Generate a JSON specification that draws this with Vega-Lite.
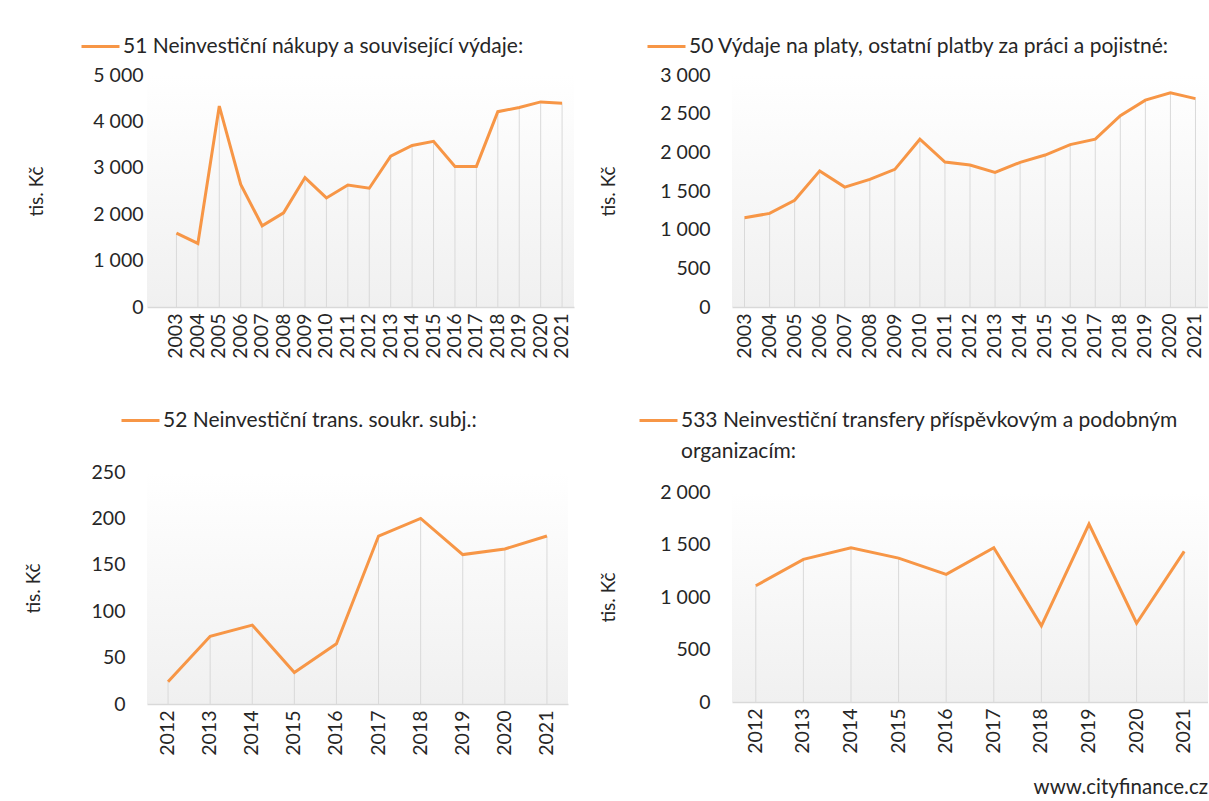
{
  "$schema": "https://vega.github.io/schema/vega-lite/v6.json",
  "background": "white",
  "padding": {"left": 24, "top": 26, "right": 0, "bottom": 0},
  "title": {"text": "www.cityfinance.cz", "orient": "bottom", "anchor": "end", "fontSize": 20.5, "fontWeight": "normal", "font": "Lato", "color": "#262626", "offset": 23},
  "config": {
    "font": "Lato",
    "view": {"stroke": null, "fill": {"gradient": "linear", "x1": 0, "y1": 0, "x2": 0, "y2": 1, "stops": [{"offset": 0, "color": "#ffffff"}, {"offset": 1, "color": "#f0f0f0"}]}},
    "axis": {"labelFont": "Lato", "labelFontSize": 19.5, "labelColor": "#262626", "titleFont": "Lato", "titleFontSize": 19, "titleFontWeight": "normal", "titleColor": "#262626", "grid": false, "ticks": false},
    "axisX": {"labelAngle": -90, "domainColor": "#d9d9d9", "domainWidth": 1.5, "labelPadding": 6, "title": null},
    "axisY": {"domain": false, "labelPadding": 22},
    "legend": {"orient": "none", "title": null, "symbolType": "stroke", "symbolSize": 1444, "symbolStrokeWidth": 3, "labelFont": "Lato", "labelFontSize": 21, "labelColor": "#262626", "labelOffset": 2, "labelLimit": 900},
    "style": {"guide-label": {"lineHeight": 31}}
  },
  "resolve": {"scale": {"color": "independent"}},
  "columns": 2,
  "align": "none",
  "spacing": {"row": 41, "column": 25},
  "concat": [
    {
      "width": 427, "height": 232,
      "data": {"values": [
        {"year": "2003", "value": 1590, "series": "51 Neinvestiční nákupy a související výdaje:"},
        {"year": "2004", "value": 1370, "series": "51 Neinvestiční nákupy a související výdaje:"},
        {"year": "2005", "value": 4330, "series": "51 Neinvestiční nákupy a související výdaje:"},
        {"year": "2006", "value": 2640, "series": "51 Neinvestiční nákupy a související výdaje:"},
        {"year": "2007", "value": 1750, "series": "51 Neinvestiční nákupy a související výdaje:"},
        {"year": "2008", "value": 2030, "series": "51 Neinvestiční nákupy a související výdaje:"},
        {"year": "2009", "value": 2790, "series": "51 Neinvestiční nákupy a související výdaje:"},
        {"year": "2010", "value": 2350, "series": "51 Neinvestiční nákupy a související výdaje:"},
        {"year": "2011", "value": 2630, "series": "51 Neinvestiční nákupy a související výdaje:"},
        {"year": "2012", "value": 2560, "series": "51 Neinvestiční nákupy a související výdaje:"},
        {"year": "2013", "value": 3250, "series": "51 Neinvestiční nákupy a související výdaje:"},
        {"year": "2014", "value": 3480, "series": "51 Neinvestiční nákupy a související výdaje:"},
        {"year": "2015", "value": 3570, "series": "51 Neinvestiční nákupy a související výdaje:"},
        {"year": "2016", "value": 3030, "series": "51 Neinvestiční nákupy a související výdaje:"},
        {"year": "2017", "value": 3030, "series": "51 Neinvestiční nákupy a související výdaje:"},
        {"year": "2018", "value": 4210, "series": "51 Neinvestiční nákupy a související výdaje:"},
        {"year": "2019", "value": 4300, "series": "51 Neinvestiční nákupy a související výdaje:"},
        {"year": "2020", "value": 4420, "series": "51 Neinvestiční nákupy a související výdaje:"},
        {"year": "2021", "value": 4390, "series": "51 Neinvestiční nákupy a související výdaje:"}
      ]},
      "encoding": {
        "x": {"field": "year", "type": "ordinal", "scale": {"padding": 0.93, "align": 0.72}},
        "y": {"field": "value", "type": "quantitative", "scale": {"domain": [0, 5000], "nice": false}, "axis": {"values": [0, 1000, 2000, 3000, 4000, 5000], "labelExpr": "replace(format(datum.value, ',d'), ',', ' ')", "title": "tis. Kč", "titlePadding": 46, "offset": -18}}
      },
      "layer": [
        {"mark": {"type": "rule", "color": "#d9d9d9", "strokeWidth": 1}, "encoding": {"y2": {"datum": 0}}},
        {"mark": {"type": "line", "strokeWidth": 3}, "encoding": {"color": {"field": "series", "type": "nominal", "scale": {"range": ["#f79646"]}, "legend": {"legendX": -67, "legendY": -49}}}}
      ]
    },
    {
      "width": 476, "height": 232,
      "data": {"values": [
        {"year": "2003", "value": 1155, "series": "50 Výdaje na platy, ostatní platby za práci a pojistné:"},
        {"year": "2004", "value": 1210, "series": "50 Výdaje na platy, ostatní platby za práci a pojistné:"},
        {"year": "2005", "value": 1380, "series": "50 Výdaje na platy, ostatní platby za práci a pojistné:"},
        {"year": "2006", "value": 1760, "series": "50 Výdaje na platy, ostatní platby za práci a pojistné:"},
        {"year": "2007", "value": 1550, "series": "50 Výdaje na platy, ostatní platby za práci a pojistné:"},
        {"year": "2008", "value": 1650, "series": "50 Výdaje na platy, ostatní platby za práci a pojistné:"},
        {"year": "2009", "value": 1780, "series": "50 Výdaje na platy, ostatní platby za práci a pojistné:"},
        {"year": "2010", "value": 2170, "series": "50 Výdaje na platy, ostatní platby za práci a pojistné:"},
        {"year": "2011", "value": 1875, "series": "50 Výdaje na platy, ostatní platby za práci a pojistné:"},
        {"year": "2012", "value": 1835, "series": "50 Výdaje na platy, ostatní platby za práci a pojistné:"},
        {"year": "2013", "value": 1740, "series": "50 Výdaje na platy, ostatní platby za práci a pojistné:"},
        {"year": "2014", "value": 1870, "series": "50 Výdaje na platy, ostatní platby za práci a pojistné:"},
        {"year": "2015", "value": 1965, "series": "50 Výdaje na platy, ostatní platby za práci a pojistné:"},
        {"year": "2016", "value": 2100, "series": "50 Výdaje na platy, ostatní platby za práci a pojistné:"},
        {"year": "2017", "value": 2170, "series": "50 Výdaje na platy, ostatní platby za práci a pojistné:"},
        {"year": "2018", "value": 2475, "series": "50 Výdaje na platy, ostatní platby za práci a pojistné:"},
        {"year": "2019", "value": 2675, "series": "50 Výdaje na platy, ostatní platby za práci a pojistné:"},
        {"year": "2020", "value": 2770, "series": "50 Výdaje na platy, ostatní platby za práci a pojistné:"},
        {"year": "2021", "value": 2695, "series": "50 Výdaje na platy, ostatní platby za práci a pojistné:"}
      ]},
      "encoding": {
        "x": {"field": "year", "type": "ordinal"},
        "y": {"field": "value", "type": "quantitative", "scale": {"domain": [0, 3000], "nice": false}, "axis": {"values": [0, 500, 1000, 1500, 2000, 2500, 3000], "labelExpr": "replace(format(datum.value, ',d'), ',', ' ')", "title": "tis. Kč", "titlePadding": 41}}
      },
      "layer": [
        {"mark": {"type": "rule", "color": "#d9d9d9", "strokeWidth": 1}, "encoding": {"y2": {"datum": 0}}},
        {"mark": {"type": "line", "strokeWidth": 3}, "encoding": {"color": {"field": "series", "type": "nominal", "scale": {"range": ["#f79646"]}, "legend": {"legendX": -86, "legendY": -49}}}}
      ]
    },
    {
      "width": 421, "height": 232,
      "data": {"values": [
        {"year": "2012", "value": 24, "series": "52 Neinvestiční trans. soukr. subj.:"},
        {"year": "2013", "value": 73, "series": "52 Neinvestiční trans. soukr. subj.:"},
        {"year": "2014", "value": 85, "series": "52 Neinvestiční trans. soukr. subj.:"},
        {"year": "2015", "value": 34, "series": "52 Neinvestiční trans. soukr. subj.:"},
        {"year": "2016", "value": 65, "series": "52 Neinvestiční trans. soukr. subj.:"},
        {"year": "2017", "value": 181, "series": "52 Neinvestiční trans. soukr. subj.:"},
        {"year": "2018", "value": 200, "series": "52 Neinvestiční trans. soukr. subj.:"},
        {"year": "2019", "value": 161, "series": "52 Neinvestiční trans. soukr. subj.:"},
        {"year": "2020", "value": 167, "series": "52 Neinvestiční trans. soukr. subj.:"},
        {"year": "2021", "value": 181, "series": "52 Neinvestiční trans. soukr. subj.:"}
      ]},
      "encoding": {
        "x": {"field": "year", "type": "ordinal"},
        "y": {"field": "value", "type": "quantitative", "scale": {"domain": [0, 250], "nice": false}, "axis": {"values": [0, 50, 100, 150, 200, 250], "title": "tis. Kč", "titlePadding": 48}}
      },
      "layer": [
        {"mark": {"type": "rule", "color": "#d9d9d9", "strokeWidth": 1}, "encoding": {"y2": {"datum": 0}}},
        {"mark": {"type": "line", "strokeWidth": 3}, "encoding": {"color": {"field": "series", "type": "nominal", "scale": {"range": ["#f79646"]}, "legend": {"legendX": -27, "legendY": -72}}}}
      ]
    },
    {
      "width": 476, "height": 210,
      "data": {"values": [
        {"year": "2012", "value": 1107, "series": "533 Neinvestiční transfery příspěvkovým a podobným organizacím:"},
        {"year": "2013", "value": 1358, "series": "533 Neinvestiční transfery příspěvkovým a podobným organizacím:"},
        {"year": "2014", "value": 1468, "series": "533 Neinvestiční transfery příspěvkovým a podobným organizacím:"},
        {"year": "2015", "value": 1370, "series": "533 Neinvestiční transfery příspěvkovým a podobným organizacím:"},
        {"year": "2016", "value": 1215, "series": "533 Neinvestiční transfery příspěvkovým a podobným organizacím:"},
        {"year": "2017", "value": 1470, "series": "533 Neinvestiční transfery příspěvkovým a podobným organizacím:"},
        {"year": "2018", "value": 725, "series": "533 Neinvestiční transfery příspěvkovým a podobným organizacím:"},
        {"year": "2019", "value": 1695, "series": "533 Neinvestiční transfery příspěvkovým a podobným organizacím:"},
        {"year": "2020", "value": 750, "series": "533 Neinvestiční transfery příspěvkovým a podobným organizacím:"},
        {"year": "2021", "value": 1435, "series": "533 Neinvestiční transfery příspěvkovým a podobným organizacím:"}
      ]},
      "encoding": {
        "x": {"field": "year", "type": "ordinal"},
        "y": {"field": "value", "type": "quantitative", "scale": {"domain": [0, 2000], "nice": false}, "axis": {"values": [0, 500, 1000, 1500, 2000], "labelExpr": "replace(format(datum.value, ',d'), ',', ' ')", "title": "tis. Kč", "titlePadding": 41}}
      },
      "layer": [
        {"mark": {"type": "rule", "color": "#d9d9d9", "strokeWidth": 1}, "encoding": {"y2": {"datum": 0}}},
        {"mark": {"type": "line", "strokeWidth": 3}, "encoding": {"color": {"field": "series", "type": "nominal", "scale": {"range": ["#f79646"]}, "legend": {"legendX": -94, "legendY": -92, "labelExpr": "['533 Neinvestiční transfery příspěvkovým a podobným', 'organizacím:']"}}}}
      ]
    }
  ]
}
